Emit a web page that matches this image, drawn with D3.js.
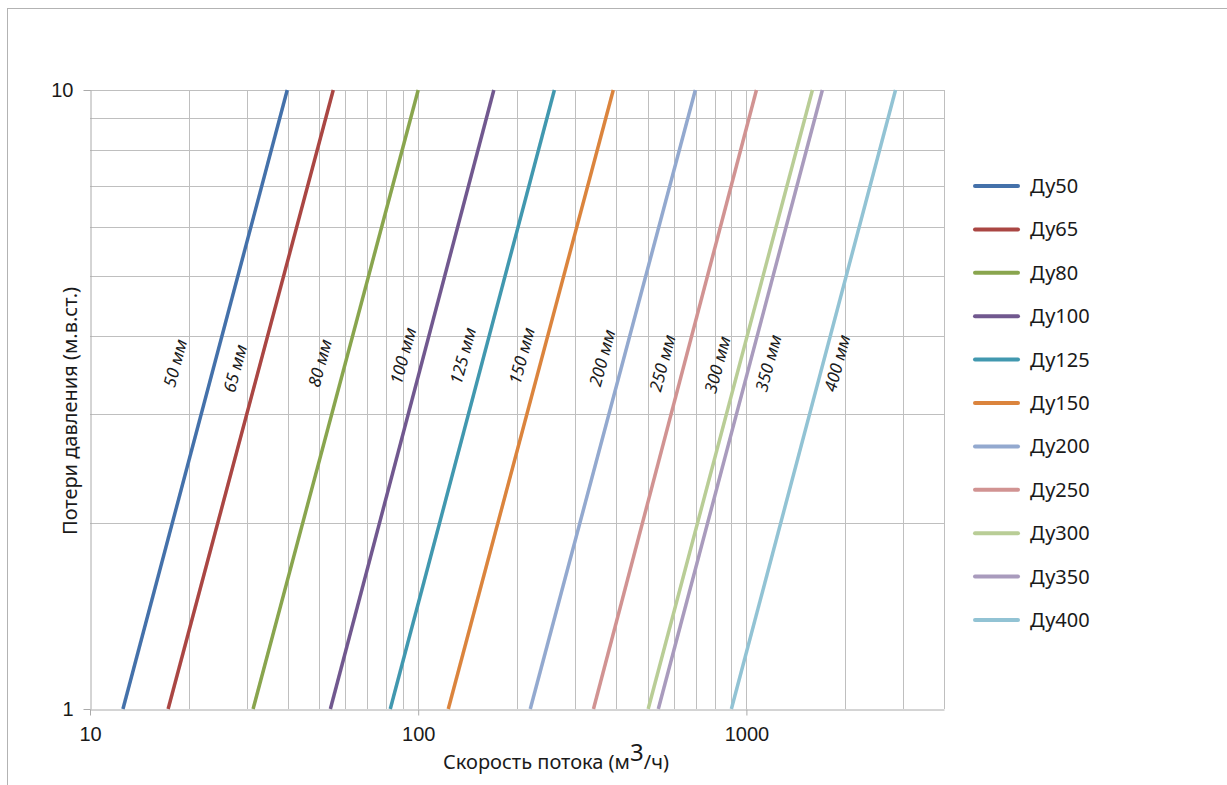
<!DOCTYPE html>
<html>
<head>
<meta charset="utf-8">
<script src="https://cdn.jsdelivr.net/npm/d3@7"></script>
<style>
  body { margin: 0; background: #fff; }
  svg { font-family: "Noto Sans", "Open Sans", sans-serif; }
</style>
</head>
<body>
<div id="vis"></div>
<script>
// series names, colours, flow at 1 m and at 10 m head loss
var names  = ["Ду50", "Ду65", "Ду80", "Ду100", "Ду125", "Ду150", "Ду200", "Ду250", "Ду300", "Ду350", "Ду400"];
var colors = ["#4471aa", "#aa4643", "#89a54e", "#71588f", "#4198af", "#db843d", "#93a9cf", "#d19392", "#b9cd96", "#a99bbd", "#92c3d4"];
var qAt1   = [12.6, 17.3, 31.4, 54, 82.2, 123.5, 219.5, 342, 502, 539, 900];
var qAt10  = [39.9, 55.1, 100, 170, 260, 393, 699, 1073, 1589, 1704, 2847];

// rotated diameter labels: text, flow, head
var labelText = ["50 мм", "65 мм", "80 мм", "100 мм", "125 мм", "150 мм", "200 мм", "250 мм", "300 мм", "350 мм", "400 мм"];
var labelQ    = [18.2, 27.7, 50.2, 90, 137, 207, 364, 555, 817, 1167, 1893];
var labelH    = [3.62, 3.55, 3.62, 3.72, 3.72, 3.72, 3.69, 3.62, 3.6, 3.62, 3.62];

var xTicks = [10, 100, 1000];
var yTicks = [1, 10];
var xGrid = [20, 30, 40, 50, 60, 70, 80, 90, 100, 200, 300, 400, 500, 600, 700, 800, 900, 1000, 2000, 3000];
var yGrid = [2, 3, 4, 5, 6, 7, 8, 9, 10];

var W = 1227, H = 785;
var svg = d3.select("#vis").append("svg").attr("width", W).attr("height", H);

// outer frame
svg.append("rect").attr("x", 7.5).attr("y", 8.5).attr("width", W).attr("height", H)
  .attr("fill", "none").attr("stroke", "#b3b3b3").attr("stroke-width", 1);

var x = d3.scaleLog().domain([10, 4000]).range([90, 944]);
var y = d3.scaleLog().domain([1, 10]).range([709, 90]);

var grid = svg.append("g").attr("stroke", "#bfbfbf").attr("stroke-width", 1);
grid.selectAll(".vg").data(xGrid).enter().append("line")
  .attr("x1", d => Math.round(x(d)) + 0.5).attr("x2", d => Math.round(x(d)) + 0.5)
  .attr("y1", y(1)).attr("y2", y(10));
grid.selectAll(".hg").data(yGrid).enter().append("line")
  .attr("x1", x(10)).attr("x2", x(4000))
  .attr("y1", d => Math.round(y(d)) + 0.5).attr("y2", d => Math.round(y(d)) + 0.5);
grid.append("line").attr("x1", 944.5).attr("x2", 944.5).attr("y1", y(1)).attr("y2", y(10));

// axes
var xAxis = svg.append("g").attr("transform", "translate(0," + (y(1) + 0.5) + ")")
  .call(d3.axisBottom(x).tickValues(xTicks).tickFormat(d3.format("d")).tickSize(6).tickSizeOuter(0).tickPadding(11));
var yAxis = svg.append("g").attr("transform", "translate(" + (x(10) + 0.5) + ",0)")
  .call(d3.axisLeft(y).tickValues(yTicks).tickFormat(d3.format("d")).tickSize(7).tickSizeOuter(0).tickPadding(10));
[xAxis, yAxis].forEach(function(a) {
  a.selectAll("path, line").attr("stroke", "#aaaaaa");
  a.selectAll("text").attr("fill", "#1a1a1a").style("font-size", "20px");
});

// series lines
var line = d3.line().x(d => x(d[0])).y(d => y(d[1]));
svg.append("g").selectAll("path").data(names).enter().append("path")
  .attr("d", (d, i) => line([[qAt1[i], 1], [qAt10[i], 10]]))
  .attr("fill", "none").attr("stroke", (d, i) => colors[i]).attr("stroke-width", 3.5);

// diameter labels
svg.append("g").selectAll("text").data(labelText).enter().append("text")
  .attr("transform", (d, i) => "translate(" + x(labelQ[i]) + "," + y(labelH[i]) + ") rotate(-75)")
  .attr("text-anchor", "middle").attr("dy", "0.35em")
  .style("font-size", "17px").style("font-style", "italic").attr("fill", "#1a1a1a")
  .text(d => d);

// legend
var lg = svg.append("g").selectAll("g").data(names).enter().append("g")
  .attr("transform", (d, i) => "translate(973," + (186 + i * 43.4) + ")");
lg.append("line").attr("x1", 2).attr("x2", 45).attr("stroke", (d, i) => colors[i])
  .attr("stroke-width", 4).attr("stroke-linecap", "round");
lg.append("text").attr("x", 57).attr("dy", "0.35em").style("font-size", "20px").attr("fill", "#1a1a1a").text(d => d);

// axis titles
svg.append("text").attr("transform", "translate(77,411) rotate(-90)").attr("text-anchor", "middle")
  .style("font-size", "20px").attr("fill", "#1a1a1a").text("Потери давления (м.в.ст.)");
var xt = svg.append("text").attr("x", 556).attr("y", 769).attr("text-anchor", "middle")
  .style("font-size", "20px").attr("fill", "#1a1a1a");
xt.append("tspan").text("Скорость потока (м");
xt.append("tspan").attr("dy", -8).style("font-size", "24px").text("3");
xt.append("tspan").attr("dy", 8).text("/ч)");
</script>
</body>
</html>
